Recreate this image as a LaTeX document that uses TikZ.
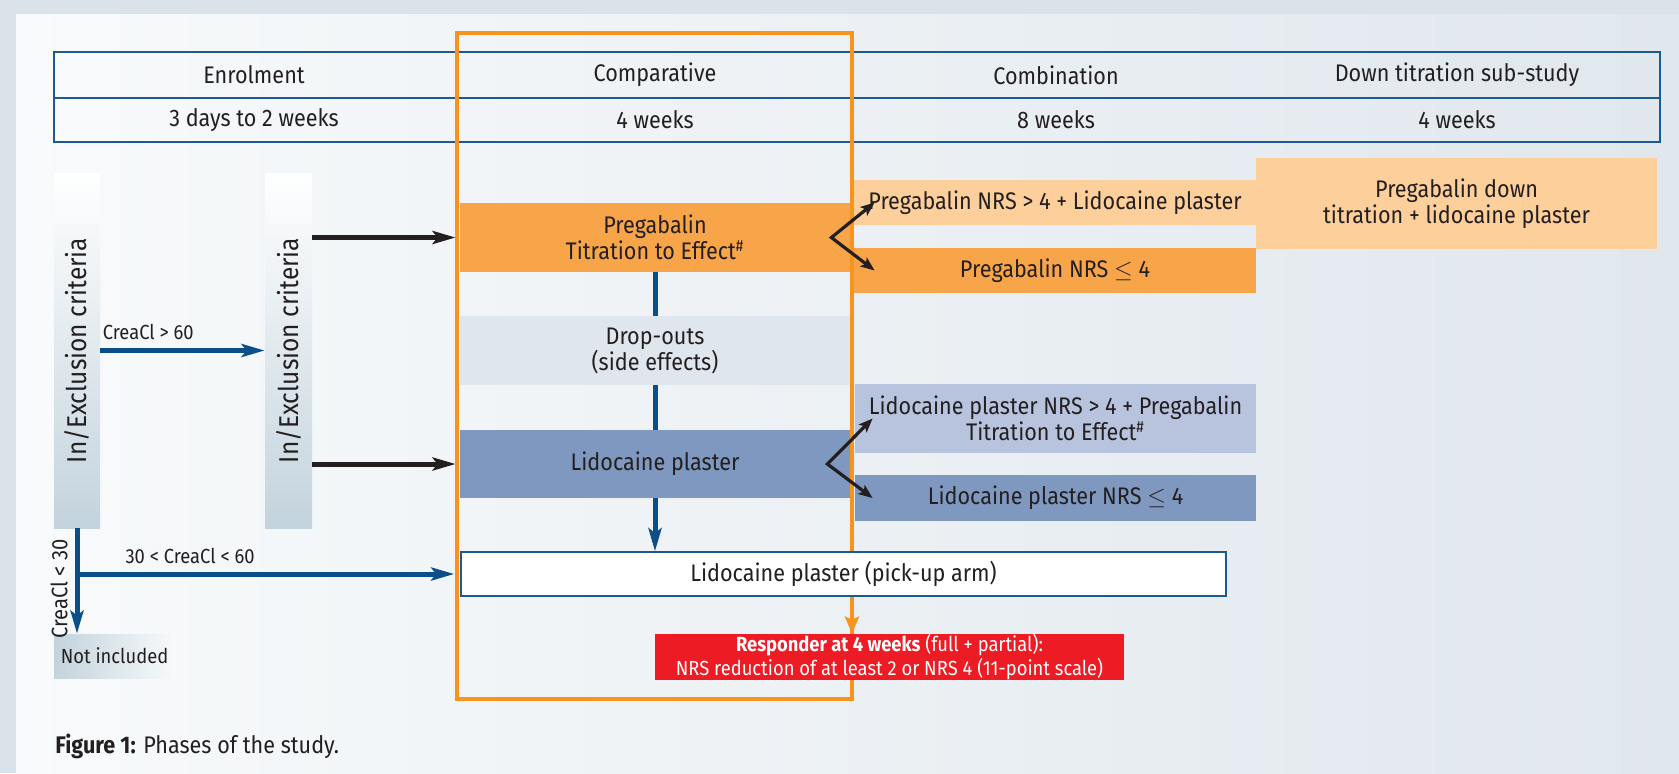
\documentclass[tikz,border=0pt]{standalone}
\usepackage{fontspec}
\setmainfont{Fira Sans}[FakeStretch=0.9]
\usetikzlibrary{arrows.meta}

\definecolor{outerbg}{HTML}{DAE3EA}
\definecolor{panelL}{HTML}{F8FAFB}
\definecolor{panelR}{HTML}{E0E7ED}
\definecolor{tableblue}{HTML}{1D5A92}
\definecolor{frameorange}{HTML}{F7941D}
\definecolor{pregdark}{HTML}{F8A54A}
\definecolor{preglight}{HTML}{FDD09B}
\definecolor{lidodark}{HTML}{7F98BF}
\definecolor{lidolight}{HTML}{B8C4DE}
\definecolor{dropgray}{HTML}{DFE6ED}
\definecolor{critgray}{HTML}{C3D3DD}
\definecolor{flowblue}{HTML}{0B4F8A}
\definecolor{respred}{HTML}{ED1C24}
\definecolor{txt}{HTML}{231F20}

\tikzset{
  armbox/.style={inner sep=0pt, align=center},
  critbox/.style={inner sep=0pt, top color=white, bottom color=critgray, minimum width=23pt, minimum height=177.5pt, font=\fontsize{13.6}{14}\selectfont},
  blueflow/.style={flowblue, line width=2.5pt, -{Stealth[length=11.5pt, width=6.5pt, inset=2.5pt]}},
  blackflow/.style={txt, line width=2.5pt, -{Stealth[length=11.5pt, width=6.5pt, inset=2.5pt]}},
  splitflow/.style={txt, line width=1.6pt, {Stealth[length=7pt, width=5.5pt, inset=1.5pt]}-{Stealth[length=7pt, width=5.5pt, inset=1.5pt]}},
  smalltext/.style={font=\fontsize{10.2}{10}\selectfont, text=txt}
}

\begin{document}
\begin{tikzpicture}[x=0.5pt, y=-0.5pt, font=\fontsize{12}{13}\selectfont, text=txt]
\useasboundingbox (0,0) rectangle (1679,773);

    % Background panel
    \fill[outerbg] (0,0) rectangle (1679,773);
    \shade[left color=panelL, right color=panelR] (16,14) rectangle (1679,773);

    % Table of the phases
    \draw[tableblue, line width=1pt] (54,52) rectangle (1660,142);
    \draw[tableblue, line width=1pt] (54,97.5) -- (1660,97.5);
    \node (enrol) at (254,75) {Enrolment};
    \node (enroltime) at (254,120) {3 days to 2 weeks};
    \node (compar) at (655,75) {Comparative};
    \node (compartime) at (655,120) {4 weeks};
    \node (combi) at (1056,75) {Combination};
    \node (combitime) at (1056,120) {8 weeks};
    \node (downsub) at (1457,75) {Down titration sub-study};
    \node (downsubtime) at (1457,120) {4 weeks};

    % Enrolment: criteria checks
    \node[critbox] (crit1) at (77,350.5) {\rotatebox{90}{In/Exclusion criteria}};
    \node[critbox, minimum width=23.5pt] (crit2) at (288.5,350.5) {\rotatebox{90}{In/Exclusion criteria}};
    \node[inner sep=0pt, left color=critgray, right color=panelL, minimum width=60.5pt, minimum height=22pt, smalltext] (notinc) at (114.5,656) {Not included};

    % Comparative arms
    \node[armbox, fill=pregdark, minimum width=195pt, minimum height=34.5pt] (preg) at (655,237.5) {Pregabalin\\Titration to Effect\textsuperscript{\#}};
    \node[armbox, fill=dropgray, minimum width=195pt, minimum height=34.5pt] (drop) at (655,350.5) {Drop-outs\\(side effects)};
    \node[armbox, fill=lidodark, minimum width=195pt, minimum height=34pt] (lido) at (655,464) {Lidocaine plaster};

    % Combination arms
    \node[armbox, fill=preglight, minimum width=201pt, minimum height=22.5pt] (pregyes) at (1055,202.5) {Pregabalin NRS > 4 + Lidocaine plaster};
    \node[armbox, fill=pregdark, minimum width=201pt, minimum height=22.5pt] (pregno) at (1055,270.5) {Pregabalin NRS $\leq$ 4};
    \node[armbox, fill=lidolight, minimum width=200.5pt, minimum height=34.5pt] (lidoyes) at (1055.5,418.5) {Lidocaine plaster NRS > 4 + Pregabalin\\Titration to Effect\textsuperscript{\#}};
    \node[armbox, fill=lidodark, minimum width=200.5pt, minimum height=23pt] (lidono) at (1055.5,498) {Lidocaine plaster NRS $\leq$ 4};

    % Down titration sub-study
    \node[armbox, fill=preglight, minimum width=200.5pt, minimum height=45.5pt] (downtit) at (1456.5,203.5) {Pregabalin down\\titration + lidocaine plaster};

    % Orange frame of the comparative phase
    \draw[frameorange, line width=2pt] (457,33) rectangle (852,699);
    \coordinate (frameSE) at (852,699);

    % Pick-up arm lies over the frame
    \node[armbox, fill=white, draw=tableblue, line width=0.8pt, minimum width=382.5pt, minimum height=22pt] (pickup) at (843.5,574) {Lidocaine plaster (pick-up arm)};

    % Blue flow through the comparative phase
    \draw[flowblue, line width=2.5pt] (preg) -- (drop);
    \draw[flowblue, line width=2.5pt] (drop) -- (lido);
    \draw[blueflow] (lido.south) -- (lido.south |- pickup.north);

    % Responder box
    \node[armbox, fill=respred, minimum width=234.5pt, minimum height=23pt, smalltext, text=white] (respond) at (889.5,657) {\textbf{Responder at 4 weeks} (full + partial):\\NRS reduction of at least 2 or NRS 4 (11-point scale)};
    \draw[frameorange, line width=2pt, -{Stealth[length=8.5pt, width=7pt, inset=1.5pt]}] (pickup.south -| frameSE) -- (respond.north -| frameSE);

    % Creatinine clearance arrows
    \draw[blueflow] (crit1) -- node[pos=0, anchor=south west, inner sep=0pt, yshift=4pt, smalltext] (highlbl) {CreaCl > 60} (crit2);
    \draw[blueflow] (crit1.south) -- (crit1.south |- notinc.north);
    \draw[blueflow, shorten >=3pt] (crit1.south |- pickup.west) -- node[pos=0, anchor=south west, inner sep=0pt, xshift=23pt, yshift=4pt, smalltext] (midlbl) {30 < CreaCl < 60} (pickup.west);
    \node[rotate=90, inner sep=0pt, smalltext, font=\fontsize{11.2}{12}\selectfont] (lowlbl) at (59,589) {CreaCl < 30};

    % Black arrows into the arms
    \draw[blackflow, shorten >=2pt] (crit2.east |- preg) -- (preg);
    \draw[blackflow, shorten >=2pt] (crit2.east |- lido) -- (lido);
    \draw[splitflow] ([xshift=10.5pt]pregyes.west) -- ([xshift=-9.5pt]preg.east) -- ([xshift=10.5pt]pregno.west);
    \draw[splitflow] ([xshift=9pt]lidoyes.west) -- ([xshift=-11.5pt]lido.east) -- ([xshift=9pt]lidono.west);

    % Caption
    \node[anchor=base west, inner sep=0pt] (caption) at (55,753) {\textbf{Figure 1:} Phases of the study.};

\end{tikzpicture}
\end{document}
